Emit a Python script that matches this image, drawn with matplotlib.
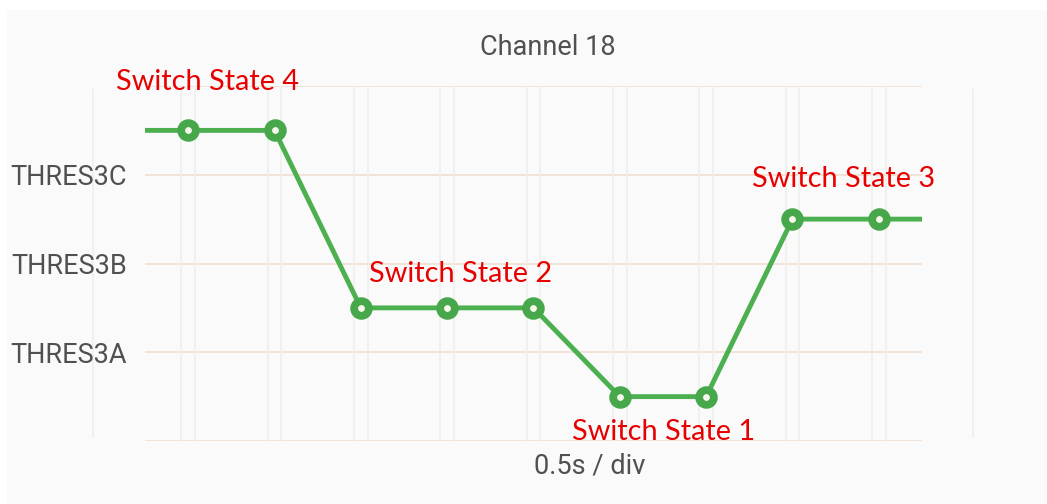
import matplotlib
matplotlib.use('Agg')
import matplotlib.pyplot as plt
from matplotlib.patches import Rectangle

# sample positions and switch levels (between thresholds)
t = [1, 2, 3, 4, 5, 6, 7, 8, 9]
level = [3.5, 3.5, 1.5, 1.5, 1.5, 0.5, 0.5, 2.5, 2.5]
thres_pos = [1, 2, 3]
thres_names = ['THRES3A', 'THRES3B', 'THRES3C']
state_names = ['Switch State 4', 'Switch State 2', 'Switch State 1', 'Switch State 3']
state_xy = [(1.23, 4.04), (4.15, 1.88), (6.51, 0.1), (8.59, 2.95)]

W, H = 1047, 504
fig = plt.figure(figsize=(W / 100, H / 100), dpi=100, facecolor='white')
fig.add_artist(Rectangle((7 / W, 0), 1, (H - 10) / H, transform=fig.transFigure,
                         facecolor='#fafafa', edgecolor='none', zorder=-10))

ax = fig.add_axes([145 / W, (H - 441) / H, (922 - 145) / W, (441 - 86) / H])
ax.set_facecolor('#fafafa')
ax.set_xlim(0.5, 9.5)
ax.set_ylim(0, 4)
for s in ax.spines.values():
    s.set_visible(False)

# grid
for y in [0, 1, 2, 3, 4]:
    ax.axhline(y, color='#f1dfd2', lw=1.2, zorder=1)
for x in t:
    for dx in (-0.08, 0.08):
        ax.axvline(x + dx, color='#eeeeeb', lw=1.2, zorder=1)
for x in (-0.1, 10.09):
    ax.plot([x, x], [0.04, 3.97], color='#eeeeee', lw=1.2, clip_on=False, zorder=1)

# signal
xs = [0.5] + t + [9.5]
ys = [level[0]] + level + [level[-1]]
ax.plot(xs, ys, color='#4caf50', lw=3.5, solid_joinstyle='round', zorder=3,
        marker='o', markevery=list(range(1, len(t) + 1)), markersize=10.6,
        markeredgewidth=5.6, markerfacecolor='#f6f8ea', markeredgecolor='#46a84b')

ax.set_yticks(thres_pos)
ax.set_yticklabels(thres_names, fontfamily='Roboto', fontsize=19.5, color='#505050')
ax.set_xticks([])
ax.tick_params(axis='y', length=0, pad=13)
ax.set_xlabel('0.5s / div', fontfamily='Roboto', fontsize=19.5, color='#505050', labelpad=8)
ax.xaxis.label.set_x(0.572)
ax.text(0.519, 1 + 31 / 355, 'Channel 18', transform=ax.transAxes, fontfamily='Roboto',
        fontsize=19.5, color='#505050', ha='center', va='baseline')

for name, (x, y) in zip(state_names, state_xy):
    ax.text(x, y, name, fontfamily='Lato', fontsize=20.8, color='#e60000',
            ha='center', va='center', zorder=4, clip_on=False)

fig.savefig('out.png', dpi=100, facecolor='white')
